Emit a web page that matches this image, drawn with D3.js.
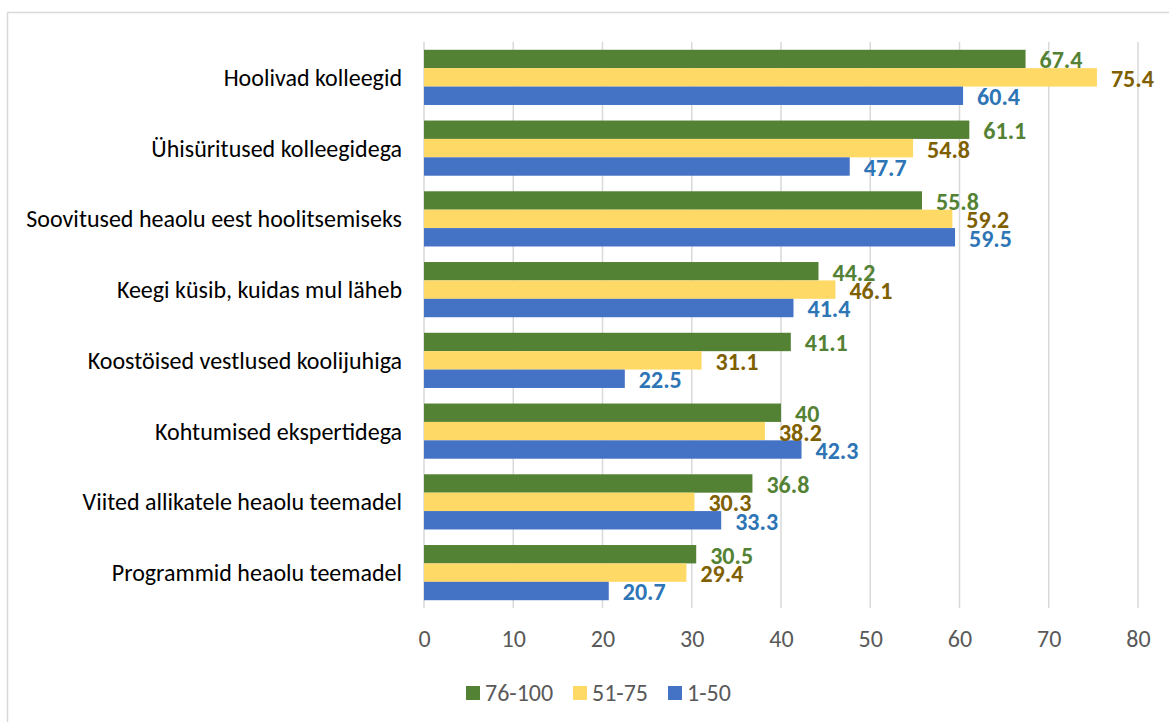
<!DOCTYPE html>
<html>
<head>
<meta charset="utf-8">
<script src="https://cdn.jsdelivr.net/npm/d3@7"></script>
<style>
  html, body { margin: 0; padding: 0; background: #ffffff; }
  svg { display: block; }
</style>
</head>
<body>
<svg id="chart" width="1169" height="722"></svg>
<script>
// Categories, top to bottom
const categories = [
  "Hoolivad kolleegid",
  "Ühisüritused kolleegidega",
  "Soovitused heaolu eest hoolitsemiseks",
  "Keegi küsib, kuidas mul läheb",
  "Koostöised vestlused koolijuhiga",
  "Kohtumised ekspertidega",
  "Viited allikatele heaolu teemadel",
  "Programmid heaolu teemadel"
];

// Series names (legend order)
const seriesNames = ["76-100", "51-75", "1-50"];

// Values per series, in category order
const values76to100 = [67.4, 61.1, 55.8, 44.2, 41.1, 40, 36.8, 30.5];
const values51to75  = [75.4, 54.8, 59.2, 46.1, 31.1, 38.2, 30.3, 29.4];
const values1to50   = [60.4, 47.7, 59.5, 41.4, 22.5, 42.3, 33.3, 20.7];

// Axis ticks
const xTicks = [0, 10, 20, 30, 40, 50, 60, 70, 80];

const seriesValues = [values76to100, values51to75, values1to50];
const barColors   = ["#548235", "#FFD966", "#4472C4"];
const labelColors = ["#548235", "#7F6000", "#2E75B6"];

const FONT = "Carlito, 'Open Sans', sans-serif";

const svg = d3.select("#chart");

// Outer frame
svg.append("rect")
  .attr("x", 7.5).attr("y", 12.5)
  .attr("width", 1300).attr("height", 900)
  .attr("fill", "#ffffff")
  .attr("stroke", "#d9d9d9")
  .attr("stroke-width", 1.5);

const plot = { left: 424, right: 1138, top: 42, bottom: 608 };

const x = d3.scaleLinear()
  .domain([0, 80])
  .range([plot.left, plot.right]);

const y = d3.scaleBand()
  .domain(categories)
  .range([plot.top, plot.bottom])
  .paddingInner(0.22)
  .paddingOuter(0.11);

const ySeries = d3.scaleBand()
  .domain(d3.range(seriesNames.length))
  .range([0, y.bandwidth()]);

// Vertical gridlines
svg.append("g")
  .selectAll("line")
  .data(xTicks)
  .join("line")
  .attr("x1", d => x(d)).attr("x2", d => x(d))
  .attr("y1", plot.top).attr("y2", plot.bottom)
  .attr("stroke", "#d9d9d9")
  .attr("stroke-width", 1.5);

// Bottom tick labels
const xAxis = d3.axisBottom(x).tickValues(xTicks).tickSize(0).tickPadding(0);
const gx = svg.append("g")
  .attr("transform", `translate(0, ${plot.bottom})`)
  .call(xAxis);
gx.select(".domain").remove();
gx.selectAll("text")
  .attr("y", 31)
  .attr("dy", "0.35em")
  .attr("fill", "#595959")
  .style("font-family", FONT)
  .style("font-size", "24px");

// Category labels
const yAxis = d3.axisLeft(y).tickSize(0).tickPadding(0);
const gy = svg.append("g")
  .attr("transform", `translate(${plot.left - 22}, 0)`)
  .call(yAxis);
gy.select(".domain").remove();
gy.selectAll("text")
  .attr("fill", "#000000")
  .attr("dy", "0.35em")
  .style("font-family", FONT)
  .style("font-size", "24px");

// Bars and value labels
const rows = [];
categories.forEach((c, i) => {
  seriesValues.forEach((vals, s) => rows.push({ cat: c, s, v: vals[i] }));
});

svg.append("g")
  .selectAll("rect")
  .data(rows)
  .join("rect")
  .attr("x", x(0))
  .attr("y", d => y(d.cat) + ySeries(d.s))
  .attr("width", d => x(d.v) - x(0))
  .attr("height", ySeries.bandwidth())
  .attr("fill", d => barColors[d.s]);

svg.append("g")
  .selectAll("text")
  .data(rows)
  .join("text")
  .attr("x", d => x(d.v) + 14)
  .attr("y", d => y(d.cat) + ySeries(d.s) + ySeries.bandwidth() / 2 + 1)
  .attr("dy", "0.35em")
  .attr("fill", d => labelColors[d.s])
  .style("font-family", FONT)
  .style("font-weight", "bold")
  .style("font-size", "24px")
  .text(d => d.v);

// Legend
const legendItems = [
  { name: seriesNames[0], x: 466 },
  { name: seriesNames[1], x: 573 },
  { name: seriesNames[2], x: 668 }
];
const lg = svg.append("g");
legendItems.forEach((item, i) => {
  lg.append("rect")
    .attr("x", item.x).attr("y", 686)
    .attr("width", 14).attr("height", 14)
    .attr("fill", barColors[i]);
  lg.append("text")
    .attr("x", item.x + 19).attr("y", 693)
    .attr("dy", "0.35em")
    .attr("fill", "#595959")
    .style("font-family", FONT)
    .style("font-size", "24px")
    .text(item.name);
});
</script>
</body>
</html>
